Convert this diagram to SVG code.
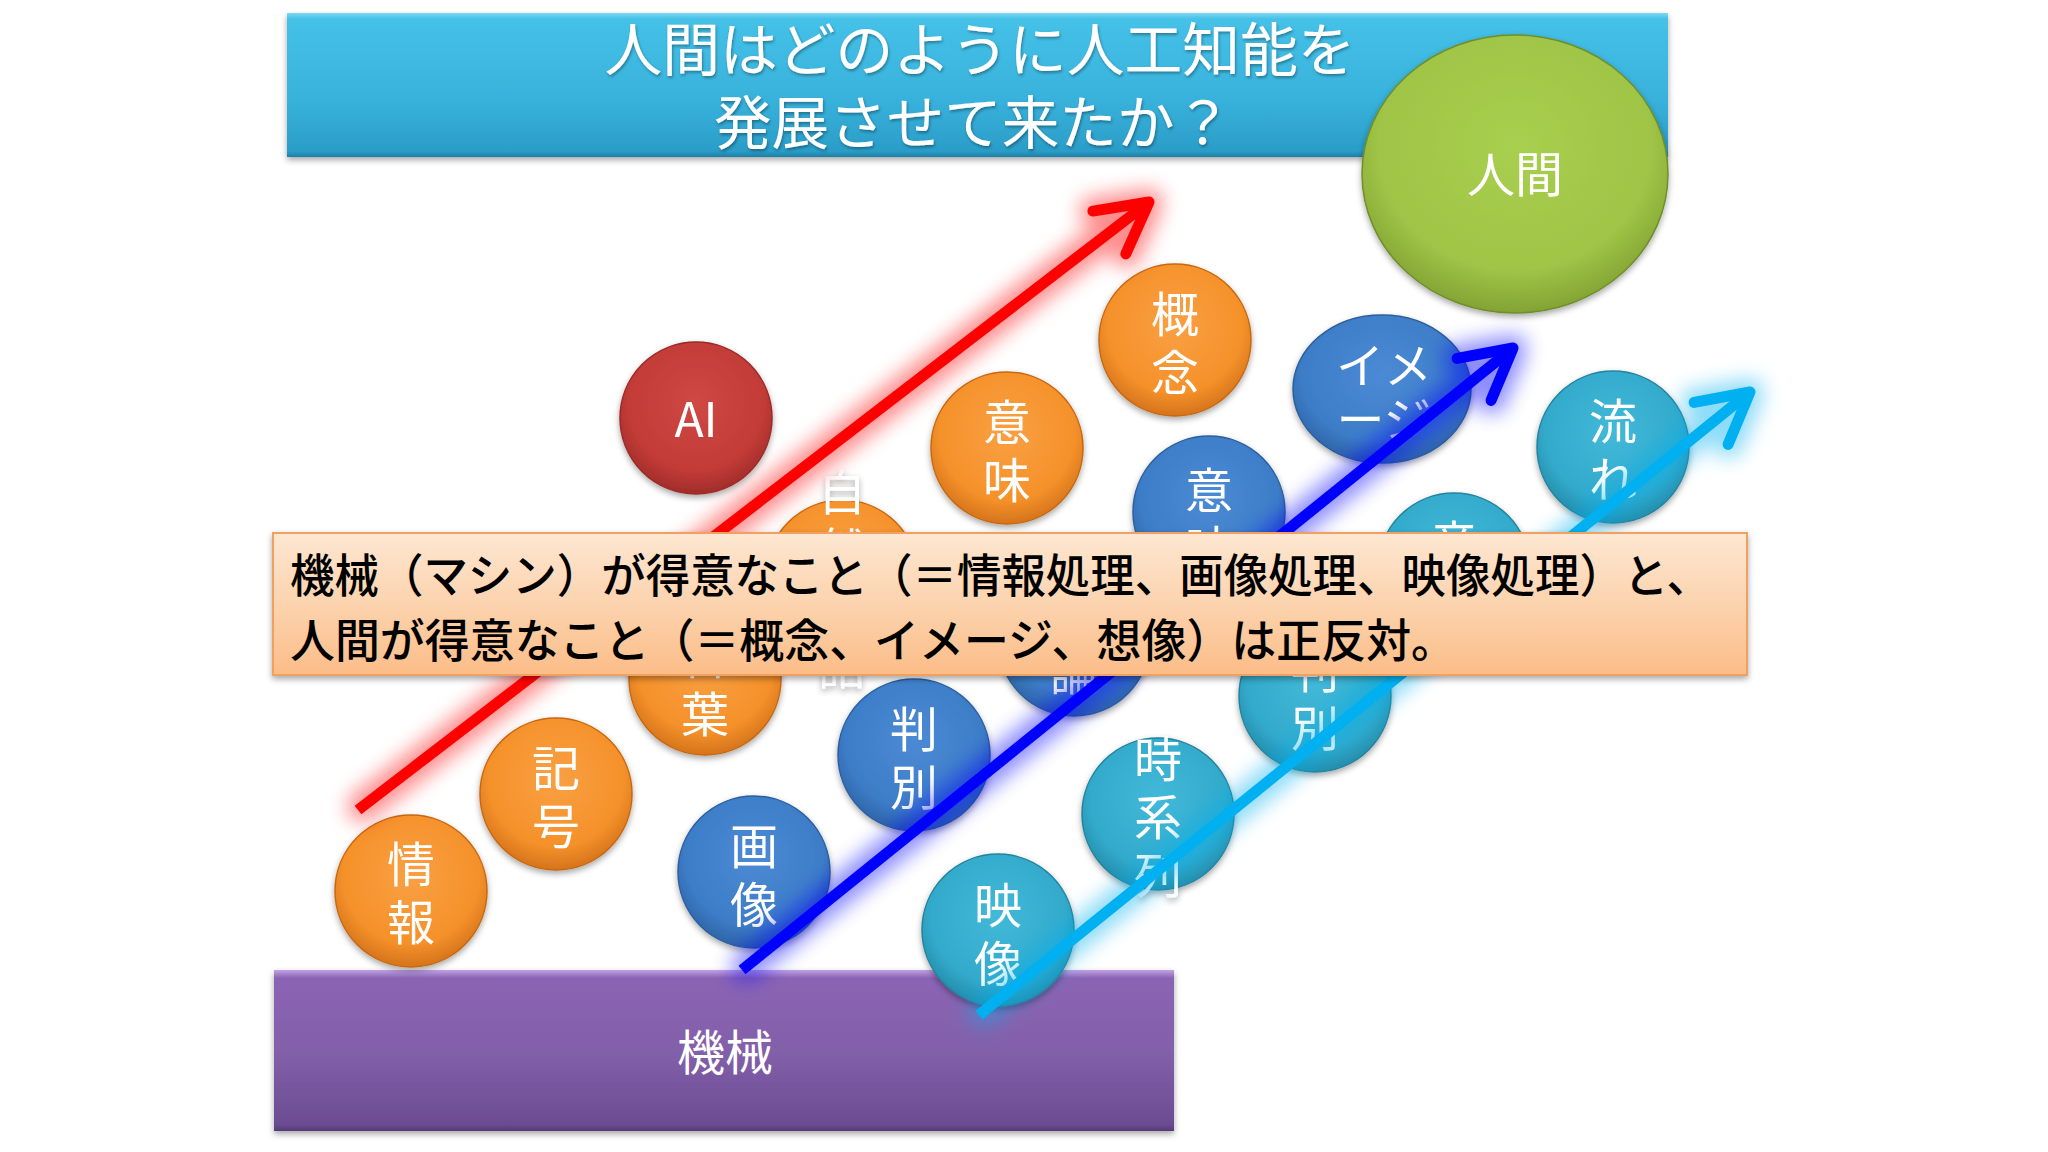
<svg xmlns="http://www.w3.org/2000/svg" width="2048" height="1152" viewBox="0 0 2048 1152">
<style>
  .ct { fill: #ffffff; font-family: "Noto Sans CJK JP", "Noto Sans", sans-serif; font-size: 48px; text-anchor: middle; dominant-baseline: central; }
  .title { fill: #ffffff; font-family: "Noto Sans CJK JP", sans-serif; font-size: 58px; text-anchor: middle; dominant-baseline: central; }
  .note { fill: #000000; font-family: "Noto Sans CJK JP", sans-serif; font-size: 46px; font-weight: 500; dominant-baseline: central; }
  .orange { fill: url(#gOrange); stroke: #c8680f; stroke-width: 1.5; }
  .red { fill: url(#gRed); stroke: #9a2a26; stroke-width: 1.5; }
  .blue { fill: url(#gBlue); stroke: #2c5f9e; stroke-width: 1.5; }
  .lblue { fill: url(#gLBlue); stroke: #23839f; stroke-width: 1.5; }
  .green { fill: url(#gGreen); stroke: #6f8f2a; stroke-width: 1.5; }
  .node { filter: url(#shadow); }
  .arrow { fill: none; stroke-width: 11; stroke-linecap: butt; }
</style>
<defs>
  <filter id="shadow" x="-20%" y="-20%" width="140%" height="150%">
    <feDropShadow dx="0" dy="3" stdDeviation="3" flood-color="#000" flood-opacity="0.35"/>
  </filter>
  <filter id="tshadow" x="-5%" y="-20%" width="110%" height="140%">
    <feDropShadow dx="1" dy="2" stdDeviation="1.5" flood-color="#000" flood-opacity="0.35"/>
  </filter>
  <filter id="glow" x="-20%" y="-20%" width="140%" height="140%">
    <feMorphology in="SourceGraphic" operator="dilate" radius="7" result="d"/>
    <feGaussianBlur in="d" stdDeviation="10" result="b"/>
    <feComponentTransfer in="b" result="f"><feFuncA type="linear" slope="0.45"/></feComponentTransfer>
    <feMerge><feMergeNode in="f"/><feMergeNode in="SourceGraphic"/></feMerge>
  </filter>
  <radialGradient id="gOrange" cx="50%" cy="40%" r="62%">
    <stop offset="0" stop-color="#f9a043"/>
    <stop offset="0.72" stop-color="#f5912a"/>
    <stop offset="1" stop-color="#d0701a"/>
  </radialGradient>
  <radialGradient id="gRed" cx="50%" cy="40%" r="62%">
    <stop offset="0" stop-color="#cf4844"/>
    <stop offset="0.72" stop-color="#c33b37"/>
    <stop offset="1" stop-color="#9c2b28"/>
  </radialGradient>
  <radialGradient id="gBlue" cx="50%" cy="40%" r="62%">
    <stop offset="0" stop-color="#4b8ad4"/>
    <stop offset="0.72" stop-color="#3d7dc8"/>
    <stop offset="1" stop-color="#2c62a3"/>
  </radialGradient>
  <radialGradient id="gLBlue" cx="50%" cy="40%" r="62%">
    <stop offset="0" stop-color="#42b9d9"/>
    <stop offset="0.72" stop-color="#33aacb"/>
    <stop offset="1" stop-color="#2288a6"/>
  </radialGradient>
  <radialGradient id="gGreen" cx="50%" cy="40%" r="62%">
    <stop offset="0" stop-color="#a9cf50"/>
    <stop offset="0.72" stop-color="#9fc446"/>
    <stop offset="1" stop-color="#7f9f32"/>
  </radialGradient>
  <linearGradient id="gTitle" x1="0" y1="0" x2="0" y2="1">
    <stop offset="0" stop-color="#7fd8f2"/>
    <stop offset="0.04" stop-color="#45c1e8"/>
    <stop offset="0.6" stop-color="#38b2dc"/>
    <stop offset="0.96" stop-color="#2a9dc8"/>
    <stop offset="1" stop-color="#1e7fa6"/>
  </linearGradient>
  <linearGradient id="gPurple" x1="0" y1="0" x2="0" y2="1">
    <stop offset="0" stop-color="#c1a2e6"/>
    <stop offset="0.05" stop-color="#8b64b4"/>
    <stop offset="0.5" stop-color="#8360aa"/>
    <stop offset="0.96" stop-color="#6b4c92"/>
    <stop offset="1" stop-color="#553a76"/>
  </linearGradient>
  <linearGradient id="gNote" x1="0" y1="0" x2="0" y2="1">
    <stop offset="0" stop-color="#fde7d2"/>
    <stop offset="0.5" stop-color="#fcd3ae"/>
    <stop offset="1" stop-color="#fbbd88"/>
  </linearGradient>
  <marker id="ahRed" markerUnits="userSpaceOnUse" markerWidth="10" markerHeight="10" refX="0" refY="0" orient="auto" overflow="visible">
    <path d="M -50 -27 L 0 0 L -50 27" fill="none" stroke="#ff0000" stroke-width="11" stroke-linecap="round" stroke-linejoin="round"/>
  </marker>
  <marker id="ahBlue" markerUnits="userSpaceOnUse" markerWidth="10" markerHeight="10" refX="0" refY="0" orient="auto" overflow="visible">
    <path d="M -50 -27 L 0 0 L -50 27" fill="none" stroke="#0000ff" stroke-width="11" stroke-linecap="round" stroke-linejoin="round"/>
  </marker>
  <marker id="ahLBlue" markerUnits="userSpaceOnUse" markerWidth="10" markerHeight="10" refX="0" refY="0" orient="auto" overflow="visible">
    <path d="M -50 -27 L 0 0 L -50 27" fill="none" stroke="#00b0f0" stroke-width="11" stroke-linecap="round" stroke-linejoin="round"/>
  </marker>
</defs>

<rect width="2048" height="1152" fill="#ffffff"/>

<g id="title-bar">
  <rect x="287" y="13" width="1381" height="144" fill="url(#gTitle)" filter="url(#shadow)"/>
  <g filter="url(#tshadow)">
    <text class="title" x="980" y="46" textLength="751" lengthAdjust="spacingAndGlyphs">人間はどのように人工知能を</text>
    <text class="title" x="973" y="119" textLength="518" lengthAdjust="spacingAndGlyphs">発展させて来たか？</text>
  </g>
</g>

<g id="machine-box">
  <rect x="274" y="970" width="900" height="161" fill="url(#gPurple)" filter="url(#shadow)"/>
  <text class="ct" x="725" y="1049" font-size="50">機械</text>
</g>

<g id="human" class="node">
  <ellipse class="green" cx="1515" cy="174" rx="153" ry="139"/>
  <text class="ct" x="1515" y="171">人間</text>
</g>

<g id="n-ai" class="node">
  <ellipse class="red" cx="696" cy="418" rx="76" ry="76"/>
  <text class="ct" x="696" y="416" font-family="Noto Sans, sans-serif" font-size="44">AI</text>
</g>

<!-- orange series -->
<g id="n-joho" class="node">
  <ellipse class="orange" cx="411" cy="891" rx="76" ry="76"/>
  <text class="ct"><tspan x="411" y="861">情</tspan><tspan x="411" y="919">報</tspan></text>
</g>
<g id="n-kigo" class="node">
  <ellipse class="orange" cx="556" cy="794" rx="76" ry="76"/>
  <text class="ct"><tspan x="556" y="765">記</tspan><tspan x="556" y="823">号</tspan></text>
</g>
<g id="n-kotoba" class="node">
  <ellipse class="orange" cx="705" cy="679" rx="76" ry="76"/>
  <text class="ct"><tspan x="705" y="653">言</tspan><tspan x="705" y="711">葉</tspan></text>
</g>
<g id="n-shizengengo" class="node">
  <ellipse class="orange" cx="842" cy="576" rx="76" ry="76"/>
  <text class="ct"><tspan x="842" y="489">自</tspan><tspan x="842" y="547">然</tspan><tspan x="842" y="663">語</tspan></text>
</g>
<g id="n-imi-o" class="node">
  <ellipse class="orange" cx="1007" cy="448" rx="76" ry="76"/>
  <text class="ct"><tspan x="1007" y="419">意</tspan><tspan x="1007" y="477">味</tspan></text>
</g>
<g id="n-gainen" class="node">
  <ellipse class="orange" cx="1175" cy="340" rx="76" ry="76"/>
  <text class="ct"><tspan x="1175" y="311">概</tspan><tspan x="1175" y="369">念</tspan></text>
</g>

<!-- blue series -->
<g id="n-gazo" class="node">
  <ellipse class="blue" cx="754" cy="872" rx="76" ry="76"/>
  <text class="ct"><tspan x="754" y="843">画</tspan><tspan x="754" y="901">像</tspan></text>
</g>
<g id="n-hanbetsu-b" class="node">
  <ellipse class="blue" cx="914" cy="755" rx="76" ry="76"/>
  <text class="ct"><tspan x="914" y="726">判</tspan><tspan x="914" y="784">別</tspan></text>
</g>
<g id="n-suiron" class="node">
  <ellipse class="blue" cx="1074" cy="640" rx="76" ry="76"/>
  <text class="ct"><tspan x="1074" y="669">論</tspan></text>
</g>
<g id="n-imi-b" class="node">
  <ellipse class="blue" cx="1209" cy="512" rx="76" ry="76"/>
  <text class="ct"><tspan x="1209" y="487">意</tspan><tspan x="1209" y="545">味</tspan></text>
</g>
<g id="n-image" class="node">
  <ellipse class="blue" cx="1382" cy="389" rx="89" ry="74"/>
  <text class="ct"><tspan x="1384" y="362">イメ</tspan><tspan x="1384" y="416">ージ</tspan></text>
</g>

<!-- light blue series -->
<g id="n-eizo" class="node">
  <ellipse class="lblue" cx="998" cy="930" rx="76" ry="76"/>
  <text class="ct"><tspan x="998" y="902">映</tspan><tspan x="998" y="960">像</tspan></text>
</g>
<g id="n-jikeiretsu" class="node">
  <ellipse class="lblue" cx="1158" cy="814" rx="76" ry="76"/>
  <text class="ct"><tspan x="1158" y="756">時</tspan><tspan x="1158" y="814">系</tspan><tspan x="1158" y="872">列</tspan></text>
</g>
<g id="n-hanbetsu-l" class="node">
  <ellipse class="lblue" cx="1315" cy="696" rx="76" ry="76"/>
  <text class="ct"><tspan x="1315" y="667">判</tspan><tspan x="1315" y="725">別</tspan></text>
</g>
<g id="n-onsei" class="node">
  <ellipse class="lblue" cx="1454" cy="569" rx="76" ry="76"/>
  <text class="ct"><tspan x="1454" y="540">音</tspan></text>
</g>
<g id="n-nagare" class="node">
  <ellipse class="lblue" cx="1613" cy="447" rx="76" ry="76"/>
  <text class="ct"><tspan x="1613" y="418">流</tspan><tspan x="1613" y="476">れ</tspan></text>
</g>

<g id="connectors">
  <path class="arrow" d="M 358 810 L 1149 202" stroke="#ff0000" marker-end="url(#ahRed)" filter="url(#glow)"/>
  <path class="arrow" d="M 742 970 L 1513 348" stroke="#0000ff" marker-end="url(#ahBlue)" filter="url(#glow)"/>
  <path class="arrow" d="M 979 1015 L 1750 392" stroke="#00b0f0" marker-end="url(#ahLBlue)" filter="url(#glow)"/>
</g>

<g id="note">
  <rect x="273" y="533" width="1474" height="142" fill="url(#gNote)" stroke="#f0a060" stroke-width="2" filter="url(#shadow)"/>
  <text class="note" x="290" y="572" textLength="1421" lengthAdjust="spacingAndGlyphs">機械（マシン）が得意なこと（＝情報処理、画像処理、映像処理）と、</text>
  <text class="note" x="290" y="637" textLength="1166" lengthAdjust="spacingAndGlyphs">人間が得意なこと（＝概念、イメージ、想像）は正反対。</text>
</g>
</svg>
